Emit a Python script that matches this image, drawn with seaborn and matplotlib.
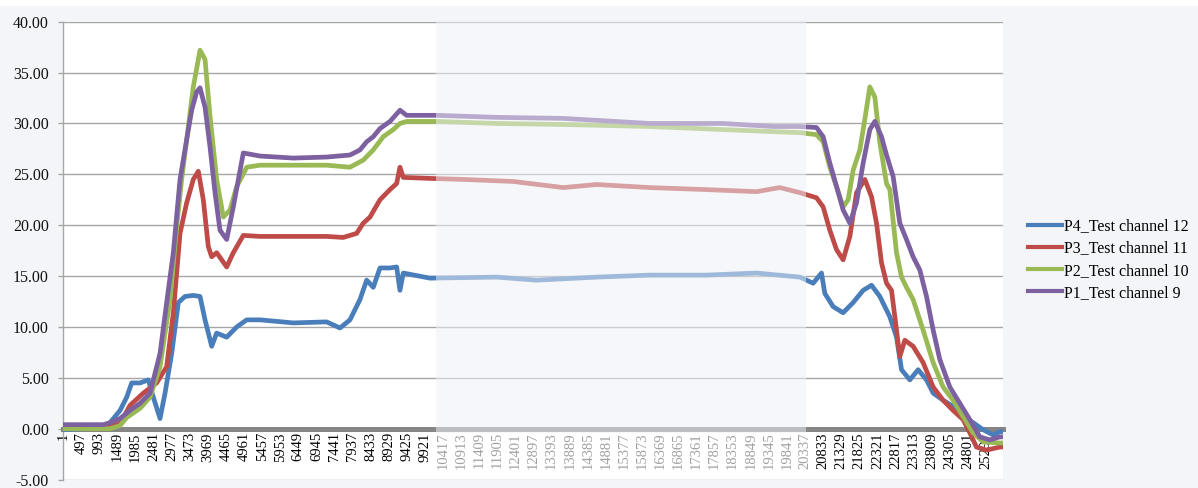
import matplotlib
matplotlib.use("Agg")
import matplotlib.pyplot as plt
import pandas as pd
import seaborn as sns
from matplotlib.patches import Rectangle
from matplotlib.lines import Line2D

# ---------------- data ----------------
series_names = ["P4_Test channel 12", "P3_Test channel 11",
                "P2_Test channel 10", "P1_Test channel 9"]
series_colors = ["#4a7ebb", "#be4b48", "#98b954", "#7d60a0"]

p4_x = [1, 1105, 1289, 1563, 1745, 1882, 2111, 2338, 2475, 2659, 2796, 2979,
        3160, 3343, 3571, 3755, 3892, 4075, 4211, 4486, 4760, 5034, 5399, 6311,
        7226, 7591, 7865, 8139, 8322, 8503, 8687, 8961, 9144, 9235, 9325, 10056,
        11884, 12980, 14624, 16085, 17638, 19008, 20195, 20559, 20788, 20879,
        21107, 21381, 21655, 21929, 22159, 22387, 22661, 22844, 22981, 23209,
        23436, 23666, 23848, 24121, 24395, 24669, 24943, 25217, 25491, 25675, 25750]
p4_y = [-0.1, 0.1, 0.6, 1.8, 3.1, 4.5, 4.5, 4.8, 3.1, 1.0, 3.5, 7.4,
        12.4, 13.0, 13.1, 13.0, 10.7, 8.1, 9.4, 9.0, 10.0, 10.7, 10.7, 10.4,
        10.5, 9.9, 10.7, 12.7, 14.6, 13.9, 15.8, 15.8, 15.9, 13.6, 15.3, 14.8,
        14.9, 14.6, 14.9, 15.1, 15.1, 15.3, 14.9, 14.3, 15.3, 13.3,
        12.0, 11.4, 12.4, 13.6, 14.1, 13.0, 11.0, 9.0, 5.8, 4.8,
        5.8, 4.8, 3.5, 2.8, 2.2, 1.2, 0.6, -0.1, -0.6, -0.3, -0.3]

p3_x = [1, 1105, 1563, 1837, 2201, 2567, 2841, 3023, 3207, 3389, 3571, 3708,
        3845, 3982, 4075, 4211, 4486, 4667, 4941, 5399, 6311, 7226, 7681, 8048,
        8229, 8413, 8687, 8961, 9144, 9235, 9325, 10056, 10970, 12339, 13709,
        14624, 16085, 17638, 19008, 19646, 20195, 20651, 20833, 21017, 21200,
        21381, 21565, 21748, 21975, 22159, 22296, 22433, 22570, 22707, 22844,
        22935, 23072, 23299, 23573, 23848, 24121, 24395, 24669, 24853, 25035,
        25309, 25675, 25750]
p3_y = [0.0, 0.1, 0.5, 2.3, 3.5, 4.5, 6.1, 11.4, 19.2, 22.2, 24.5, 25.3,
        22.5, 17.9, 16.9, 17.3, 15.9, 17.3, 19.0, 18.9, 18.9, 18.9, 18.8, 19.2,
        20.2, 20.8, 22.5, 23.5, 24.1, 25.7, 24.7, 24.6, 24.5, 24.3, 23.7,
        24.0, 23.7, 23.5, 23.3, 23.7, 23.2, 22.7, 21.8, 19.5, 17.6,
        16.6, 18.9, 23.2, 24.5, 22.8, 20.2, 16.3, 14.3, 13.6, 9.7,
        7.1, 8.7, 8.1, 6.5, 4.1, 2.8, 1.8, 0.9, -0.4, -1.8,
        -2.1, -1.8, -1.8]

p2_x = [1, 1289, 1563, 1745, 2111, 2385, 2659, 2933, 3116, 3252, 3389, 3571,
        3755, 3892, 4029, 4211, 4393, 4577, 4760, 5034, 5399, 6311, 7226, 7865,
        8229, 8503, 8777, 9051, 9235, 9418, 10240, 11884, 13709, 16085, 18093,
        19463, 20195, 20651, 20833, 21017, 21200, 21381, 21518, 21655, 21839,
        21975, 22113, 22250, 22387, 22570, 22661, 22844, 22981, 23117, 23299,
        23573, 23848, 24121, 24395, 24669, 24943, 25217, 25675, 25750]
p2_y = [0.0, 0.0, 0.3, 1.1, 2.0, 3.1, 6.1, 12.7, 19.9, 24.5, 28.4, 33.6,
        37.2, 36.3, 30.7, 24.5, 20.8, 21.5, 23.8, 25.7, 25.9, 25.9, 25.9, 25.7,
        26.4, 27.4, 28.7, 29.4, 30.0, 30.2, 30.2, 30.0, 29.9, 29.7, 29.4,
        29.2, 29.1, 28.9, 28.2, 25.7, 23.8, 21.8, 22.5, 25.4, 27.4,
        30.4, 33.6, 32.6, 28.1, 24.1, 23.5, 17.3, 14.9, 13.9, 12.7,
        9.7, 6.5, 4.1, 2.8, 1.2, -0.4, -1.3, -1.4, -1.4]

p1_x = [1, 1105, 1289, 1563, 1837, 2111, 2385, 2659, 2841, 3023, 3207, 3389,
        3526, 3663, 3755, 3892, 4029, 4166, 4303, 4486, 4667, 4941, 5399, 6311,
        7226, 7865, 8139, 8322, 8503, 8687, 8961, 9235, 9418, 10240, 11884,
        13709, 16085, 18093, 19463, 20195, 20651, 20833, 21017, 21200, 21381,
        21565, 21748, 21929, 22113, 22250, 22433, 22570, 22751, 22935, 23117,
        23299, 23483, 23666, 23848, 24031, 24305, 24579, 24853, 25127, 25401,
        25675, 25750]
p1_y = [0.4, 0.4, 0.6, 1.0, 1.8, 2.5, 3.5, 7.4, 12.4, 17.3, 24.5, 28.4,
        31.3, 33.1, 33.5, 31.6, 27.7, 23.2, 19.5, 18.6, 21.8, 27.1, 26.8, 26.6,
        26.7, 26.9, 27.4, 28.2, 28.7, 29.5, 30.2, 31.3, 30.8, 30.8, 30.6,
        30.5, 30.0, 30.0, 29.7, 29.7, 29.6, 28.7, 26.1, 23.8, 21.5,
        20.2, 22.2, 26.1, 29.4, 30.2, 28.7, 26.9, 24.8, 20.2, 18.6,
        16.9, 15.6, 13.0, 9.7, 6.8, 4.1, 2.5, 0.9, -0.8, -1.1,
        -0.8, -0.8]

n_categories = 25755
x_tick_values = list(range(1, 25298, 496))
y_tick_values = [-5, 0, 5, 10, 15, 20, 25, 30, 35, 40]
window_start, window_end = 10232, 20376   # faded (scroll-window) range

# ---------------- build long table ----------------
frames = []
for name, xs, ys in zip(series_names,
                        [p4_x, p3_x, p2_x, p1_x],
                        [p4_y, p3_y, p2_y, p1_y]):
    frames.append(pd.DataFrame({"idx": xs, "value": ys, "series": name}))
df = pd.concat(frames, ignore_index=True)

# ---------------- plotting ----------------
BG = "#f4f5f9"
plt.rcParams["font.family"] = ["Liberation Serif", "DejaVu Serif"]

fig = plt.figure(figsize=(11.98, 4.88), dpi=100, facecolor=BG)
# thin white strip at the very top (cut-off title band)
fig.patches.append(Rectangle((0, 1 - 6 / 488), 1, 6 / 488, transform=fig.transFigure,
                             facecolor="white", edgecolor="none", zorder=0))
ax = fig.add_axes([0.0526, 0.0172, 0.7844, 0.9383])
ax.set_facecolor("white")

sns.lineplot(data=df, x="idx", y="value", hue="series",
             hue_order=series_names, palette=series_colors,
             estimator=None, sort=True, linewidth=3.4,
             legend=False, ax=ax)
for ln in ax.lines:
    ln.set_zorder(3)
    ln.set_solid_joinstyle("round")
    ln.set_solid_capstyle("round")

ax.set_xlim(0, n_categories)
ax.set_ylim(-5, 40)

# grid
ax.set_yticks(y_tick_values)
ax.set_yticklabels([f"{v:.2f}" for v in y_tick_values])
ax.yaxis.grid(True, color="#a6a6a6", linewidth=1.0, zorder=0)
ax.xaxis.grid(False)
ax.set_axisbelow(True)

# spines
for s in ["top", "right"]:
    ax.spines[s].set_visible(False)
ax.spines["left"].set_color("#a6a6a6")
ax.spines["left"].set_linewidth(1.0)
ax.spines["bottom"].set_position(("data", 0))
ax.spines["bottom"].set_color("#858585")
ax.spines["bottom"].set_linewidth(3.6)
ax.spines["bottom"].set_zorder(2.5)

ax.tick_params(axis="y", length=3.6, color="#a6a6a6", width=1.0,
               labelsize=11.5, labelcolor="#111111", pad=6.5)
ax.set_xticks(x_tick_values)
ax.set_xticklabels([str(v) for v in x_tick_values], rotation=90)
ax.tick_params(axis="x", length=0, labelsize=10.5, pad=2.5)
for v, lab in zip(x_tick_values, ax.get_xticklabels()):
    lab.set_color("#a0a0a0" if window_start <= v <= window_end else "#000000")
    lab.set_verticalalignment("top")

ax.set_xlabel("")
ax.set_ylabel("")

# faded window overlay
ax.add_patch(Rectangle((window_start, -0.45), window_end - window_start, 40.6,
                       facecolor="#eff1f7", edgecolor="none", alpha=0.52,
                       zorder=4, clip_on=False))

# legend
handles = [Line2D([0], [0], color=c, linewidth=3.0) for c in series_colors]
fig.legend(handles, series_names, loc="center left",
           bbox_to_anchor=(0.853, 0.468), frameon=False, fontsize=11.5,
           handlelength=2.1, handletextpad=0.15, labelspacing=0.38,
           borderaxespad=0)

fig.savefig("out.png", dpi=100, facecolor=BG)
